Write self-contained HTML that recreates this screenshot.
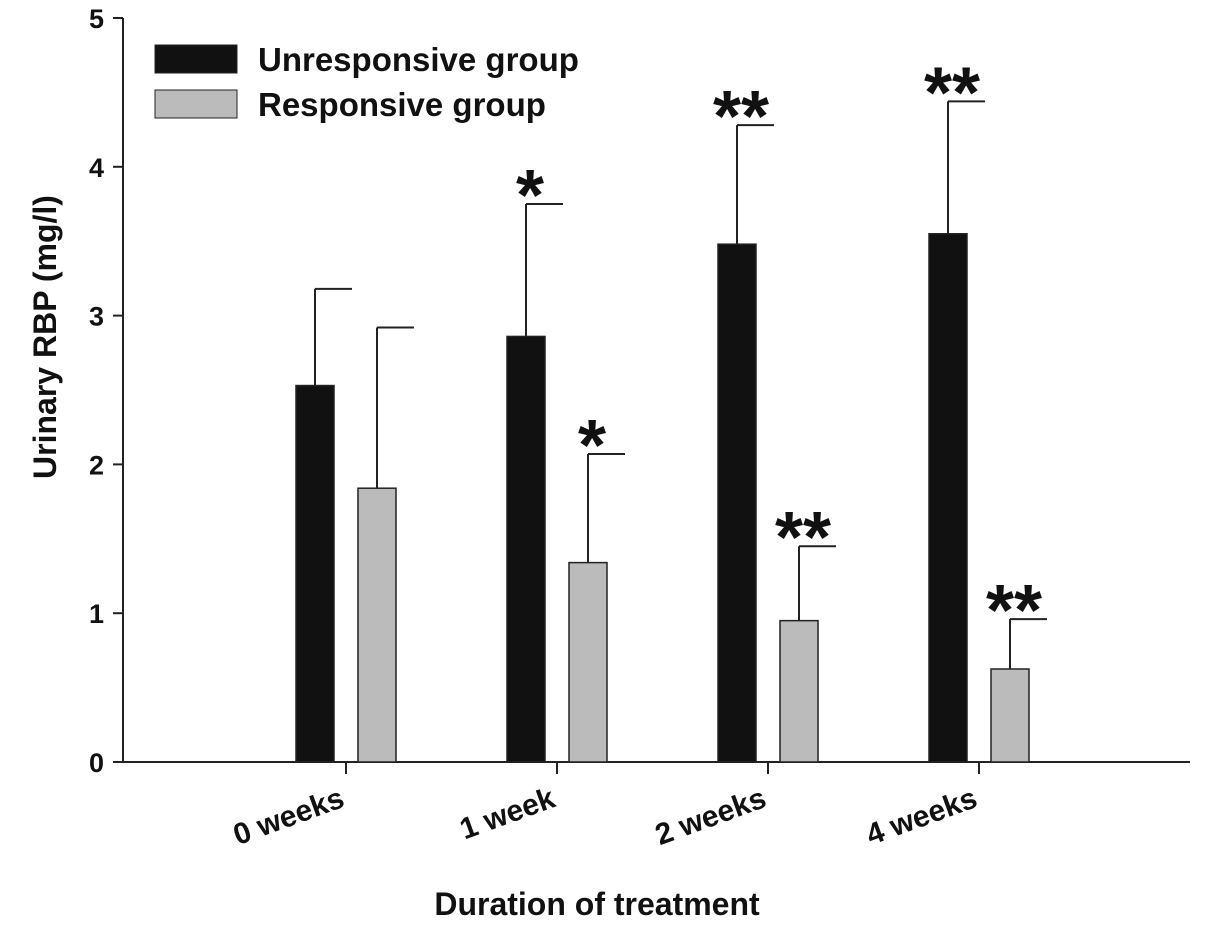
<!DOCTYPE html>
<html><head><meta charset="utf-8"><style>
body{margin:0;background:#fff}
svg text{font-family:"Liberation Sans",Arial,sans-serif;font-weight:bold;fill:#111}
</style></head><body>
<svg width="1205" height="945" viewBox="0 0 1205 945">
<g id="plot"></g>
</svg>
<script>
const categories=["0 weeks","1 week","2 weeks","4 weeks"];
const unresponsive=[2.53,2.86,3.48,3.55];
const unresponsiveErr=[3.18,3.75,4.28,4.44];
const responsive=[1.84,1.34,0.95,0.625];
const responsiveErr=[2.92,2.07,1.45,0.96];
const unrStars=["","*","**","**"];
const resStars=["","*","**","**"];
const yTicks=[0,1,2,3,4,5];

const NS="http://www.w3.org/2000/svg";
const g=document.getElementById('plot');
function el(t,a,txt){const e=document.createElementNS(NS,t);for(const k in a)e.setAttribute(k,a[k]);if(txt!==undefined)e.textContent=txt;g.appendChild(e);return e;}
const y0=762,pu=148.8;
const Y=v=>y0-v*pu;
const X=i=>346+i*211;
const bw=38,off=31;

let e=el('line',{x1:123,y1:Y(0),x2:1190,y2:Y(0),stroke:'#222','stroke-width':2});


e=el('line',{x1:123,y1:Y(0),x2:123,y2:Y(5),stroke:'#222','stroke-width':2});


yTicks.forEach(t=>{
  let l=el('line',{x1:113,y1:Y(t),x2:123,y2:Y(t),stroke:'#222','stroke-width':2});
  
  
  let tx=el('text',{x:104,y:Y(t)+10,'text-anchor':'end','font-size':27},t);
  
  
});
categories.forEach((c,i)=>{
  const cx=X(i);
  let l=el('line',{x1:cx,y1:Y(0),x2:cx,y2:Y(0)+12,stroke:'#222','stroke-width':2});
  
  
  let tx=el('text',{x:cx,y:Y(0)+44,'text-anchor':'end','font-size':30,transform:`rotate(-20 ${cx} ${Y(0)+44})`},c);
  
  
  [[unresponsive,unresponsiveErr,unrStars,-off,'#111','unresponsive'],[responsive,responsiveErr,resStars,off,'#bbb','responsive']].forEach(([v,er,st,o,col,nm])=>{
    const bx=cx+o;
    let eb=el('line',{x1:bx,y1:Y(v[i]),x2:bx,y2:Y(er[i]),stroke:'#222','stroke-width':2});
    
    
    let cap=el('line',{x1:bx,y1:Y(er[i]),x2:bx+bw/2+18,y2:Y(er[i]),stroke:'#222','stroke-width':2});
    
    
    let r=el('rect',{x:bx-bw/2,y:Y(v[i]),width:bw,height:Y(0)-Y(v[i]),fill:col,stroke:'#222','stroke-width':1.5});
    
    
    if(st[i]){let s=el('text',{x:bx+4,y:Y(er[i])+16,'text-anchor':'middle','font-size':72},st[i]);
      
      }
  });
});
let yt=el('text',{x:0,y:0,'text-anchor':'middle','font-size':32,transform:'translate(56 337) rotate(-90)'},'Urinary  RBP (mg/l)');


let xt=el('text',{x:597,y:915,'text-anchor':'middle','font-size':32},'Duration of treatment');


let r1=el('rect',{x:155,y:45,width:82,height:28,fill:'#111',stroke:'#222'});


let t1=el('text',{x:258,y:71,'font-size':33},'Unresponsive group');


let r2=el('rect',{x:155,y:90,width:82,height:28,fill:'#bbb',stroke:'#222'});


let t2=el('text',{x:258,y:116,'font-size':33},'Responsive group');


</script>
</body></html>
